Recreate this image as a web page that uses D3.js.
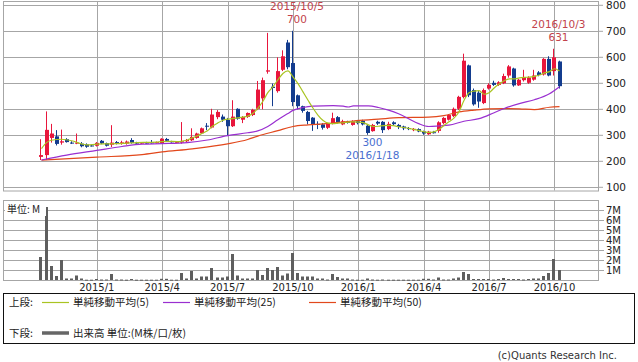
<!DOCTYPE html>
<html>
<head>
<meta charset="utf-8">
<script src="https://cdn.jsdelivr.net/npm/d3@7"></script>
<style>
body { margin: 0; background: #fff; }
svg { display: block; font-family: "DejaVu Sans", sans-serif; }
</style>
</head>
<body>
<svg id="chart"></svg>
<script>
// weekly candles (monday of each week)
let weeks = [
  '2014-10-20','2014-10-27','2014-11-03','2014-11-10','2014-11-17','2014-11-24','2014-12-01','2014-12-08','2014-12-15','2014-12-22','2014-12-29',
  '2015-01-05','2015-01-12','2015-01-19','2015-01-26','2015-02-02','2015-02-09','2015-02-16','2015-02-23','2015-03-02','2015-03-09','2015-03-16','2015-03-23','2015-03-30',
  '2015-04-06','2015-04-13','2015-04-20','2015-04-27','2015-05-04','2015-05-11','2015-05-18','2015-05-25','2015-06-01','2015-06-08','2015-06-15','2015-06-22','2015-06-29',
  '2015-07-06','2015-07-13','2015-07-20','2015-07-27','2015-08-03','2015-08-10','2015-08-17','2015-08-24','2015-08-31','2015-09-07','2015-09-14','2015-09-21','2015-09-28',
  '2015-10-05','2015-10-12','2015-10-19','2015-10-26','2015-11-02','2015-11-09','2015-11-16','2015-11-23','2015-11-30','2015-12-07','2015-12-14','2015-12-21','2015-12-28',
  '2016-01-04','2016-01-11','2016-01-18','2016-01-25','2016-02-01','2016-02-08','2016-02-15','2016-02-22','2016-02-29','2016-03-07','2016-03-14','2016-03-21','2016-03-28',
  '2016-04-04','2016-04-11','2016-04-18','2016-04-25','2016-05-02','2016-05-09','2016-05-16','2016-05-23','2016-05-30','2016-06-06','2016-06-13','2016-06-20','2016-06-27',
  '2016-07-04','2016-07-11','2016-07-18','2016-07-25','2016-08-01','2016-08-08','2016-08-15','2016-08-22','2016-08-29','2016-09-05','2016-09-12','2016-09-19','2016-09-26',
  '2016-10-03','2016-10-10'
]

let open = [215,222,288,294,270,283,270,266,266,263,259,258,277,268,262,272,265,266,280,270,
  268,270,271,270,268,284,275,272,270,275,279,288,306,335,328,368,370,357,333,400,
  358,369,376,400,440,543,485,468,550,655,576,452,410,388,366,342,340,327,343,368,
  340,350,338,352,354,335,314,350,350,322,348,338,332,326,318,322,313,302,310,315,
  345,358,372,400,445,567,472,462,422,478,500,492,498,528,555,490,510,500,512,540,
  532,592,545,582]
let high = [283,390,342,318,320,287,275,305,272,267,262,272,280,270,337,276,277,278,287,273,
  272,273,280,274,287,288,277,276,349,284,325,308,328,345,400,395,378,365,433,402,
  372,386,400,507,520,692,497,598,625,665,700,455,412,392,368,352,345,345,385,372,
  358,354,356,357,358,338,342,354,353,350,352,342,335,330,326,325,316,315,315,352,
  368,380,405,450,612,570,478,468,478,498,508,506,535,568,558,515,550,525,550,545,
  595,602,631,585]
let low = [203,203,270,259,262,270,265,264,252,250,255,255,264,255,253,263,262,262,266,265,
  265,266,266,266,266,274,270,268,266,272,276,285,303,318,325,360,350,295,330,358,
  345,365,372,395,398,535,410,462,545,552,410,398,385,340,315,322,320,322,340,343,
  337,343,335,340,336,300,312,338,307,318,337,322,318,318,314,310,300,300,305,308,
  340,355,368,395,440,445,412,404,418,474,488,488,495,520,485,488,505,496,508,525,
  528,525,528,478]
let close = [222,319,305,265,275,272,268,270,256,254,258,269,267,258,270,266,271,274,269,268,
  270,269,270,272,285,277,272,273,275,280,292,305,325,332,378,388,358,333,370,362,
  368,384,396,474,510,548,480,545,602,560,426,410,392,353,340,339,327,342,364,347,
  352,347,352,345,340,307,338,343,318,342,341,330,325,322,323,313,305,312,308,348,
  365,376,400,446,585,452,417,428,472,492,492,502,526,563,490,512,522,520,528,530,
  592,528,598,487]
// volume, millions of shares
let volume = [2.3,7.3,1.4,0.4,2.0,0.15,0.15,0.45,0.15,0.03,0.03,0.1,0.05,0.05,0.6,0.05,0.05,0.03,0.1,0.03,
  0.03,0.03,0.03,0.03,0.12,0.12,0.03,0.03,0.7,0.15,0.9,0.15,0.35,0.35,1.2,0.25,0.25,0.35,2.6,0.45,
  0.15,0.15,0.15,1.0,0.5,1.2,1.0,1.3,0.45,0.65,2.7,0.7,0.35,0.35,0.35,0.15,0.15,0.05,0.6,0.3,
  0.15,0.15,0.05,0.03,0.03,0.15,0.05,0.03,0.05,0.03,0.03,0.03,0.03,0.03,0.03,0.03,0.12,0.12,0.05,0.25,
  0.05,0.05,0.15,0.25,0.8,0.6,0.1,0.1,0.1,0.1,0.05,0.1,0.2,0.1,0.1,0.1,0.05,0.1,0.15,0.15,
  0.4,0.7,2.1,1.0]

// moving averages: [week index, value]
let ma5 = [[0,247],[1,270],[2,279],[4,283],[6,277],[8,265],[9,261],[11,264],[13,265],[15,266],[17,268],[19,270],
  [21,271],[23,272],[25,275],[27,274],[28,276],[29,280],[30,288],[31,296],[32,306],[33,316],[34,333],[35,345],
  [36,355],[37,360],[38,362],[39,365],[40,368],[41,372],[42,382],[43,402],[44,428],[45,462],[46,484],[47,511],
  [48,536],[49,546],[50,523],[51,497],[52,465],[53,433],[54,402],[55,375],[56,355],[57,345],[58,343],[59,345],
  [60,346],[61,349],[62,350],[63,349],[64,347],[65,338],[66,332],[67,333],[68,335],[69,336],[70,335],[71,331],
  [72,328],[73,325],[74,321],[75,317],[76,312],[77,309],[78,311],[79,320],[80,336],[81,350],[82,364],[83,388],
  [84,432],[85,462],[86,468],[87,470],[88,456],[89,462],[90,480],[91,495],[92,508],[93,515],[94,515],[95,519],
  [96,521],[97,522],[98,525],[99,530],[100,538],[101,543],[102,554],[103,545]]
let ma25 = [[0,203],[5,222],[11,240],[16,255],[20,264],[24,266],[29,270],[33,280],[37,297],[41,308],[43,315],
  [45,332],[47,358],[49,382],[50,394],[52,405],[54,410],[58,412],[60,410],[61,407],[62,411],[65,411],[67,405],
  [69,395],[71,381],[73,362],[75,343],[77,332],[79,334],[81,337],[84,352],[87,362],[90,385],[92,401],[95,420],
  [98,435],[101,458],[103,485]]
let ma50 = [[0,203],[11,214],[20,224],[24,234],[30,246],[37,265],[41,282],[43,295],[47,316],[50,332],[53,338],
  [56,342],[62,353],[67,360],[71,366],[77,368],[80,374],[83,388],[86,395],[89,400],[92,401],[95,400],[98,397],
  [101,406],[103,408]]

let tickWeeks = ['2015-01-05','2015-04-06','2015-07-06','2015-10-05','2016-01-04','2016-04-04','2016-07-04','2016-10-03']
let tickLabels = ['2015/1','2015/4','2015/7','2015/10','2016/1','2016/4','2016/7','2016/10']
let priceTicks = [100,200,300,400,500,600,700,800]
let volumeTicks = [1,2,3,4,5,6,7]

// high / low markers
let markWeeks = ['2015-10-05','2016-10-03','2016-01-18']
let markValues = [700,631,300]
let markLabels = ['2015/10/5','2016/10/3','2016/1/18']
let markIsHigh = [true,true,false]

let legendNames = ['単純移動平均(5)','単純移動平均(25)','単純移動平均(50)']

let width = 638
let height = 362
let plotLeft = 3
let plotRight = 598
let priceTop = 1
let priceBottom = 190.5
let volTop = 200
let volBottom = 280

let upColor = '#e8163c'
let downColor = '#133c8e'
let gridColor = '#a6a6a6'
let maColors = ['#a9c422','#9a2fd0','#e2481c']

let svg = d3.select('#chart')
let xScale, yScale, vScale

let drawCanvas = () => {
  svg.attr('width', width).attr('height', height)
  svg.append('rect').attr('width', width).attr('height', height).attr('fill', '#fff')
}

let generateScales = () => {
  xScale = d3.scalePoint()
    .domain(weeks)
    .range([plotLeft, plotRight])
    .padding(7.65)
  yScale = d3.scaleLinear()
    .domain([85.8, 814.6])
    .range([priceBottom, priceTop])
  vScale = d3.scaleLinear()
    .domain([0, 8])
    .range([volBottom, volTop])
}

let px = (v) => Math.round(v) + 0.5

let drawGrid = () => {
  let g = svg.append('g').attr('stroke', gridColor).attr('stroke-width', 1)
  // price panel
  priceTicks.forEach((t) => {
    g.append('line').attr('x1', plotLeft).attr('x2', plotRight)
      .attr('y1', px(yScale(t))).attr('y2', px(yScale(t)))
  })
  // volume panel
  volumeTicks.forEach((t) => {
    g.append('line').attr('x1', plotLeft).attr('x2', plotRight)
      .attr('y1', px(vScale(t))).attr('y2', px(vScale(t)))
  })
  tickWeeks.forEach((w) => {
    let x = px(xScale(w))
    g.append('line').attr('x1', x).attr('x2', x).attr('y1', priceTop).attr('y2', priceBottom)
    g.append('line').attr('x1', x).attr('x2', x).attr('y1', volTop).attr('y2', volBottom)
  })
  // frames
  svg.append('rect').attr('x', plotLeft + 0.5).attr('y', priceTop + 0.5)
    .attr('width', plotRight - plotLeft).attr('height', priceBottom - priceTop)
    .attr('fill', 'none').attr('stroke', gridColor)
  svg.append('rect').attr('x', plotLeft + 0.5).attr('y', volTop + 0.5)
    .attr('width', plotRight - plotLeft).attr('height', volBottom - volTop)
    .attr('fill', 'none').attr('stroke', gridColor)
}

let drawCandles = () => {
  let candles = svg.append('g')
    .selectAll('g')
    .data(weeks)
    .enter()
    .append('g')
    .attr('fill', (w, i) => close[i] >= open[i] ? upColor : downColor)
    .attr('stroke', (w, i) => close[i] >= open[i] ? upColor : downColor)

  candles.append('line')
    .attr('x1', (w) => Math.round(xScale(w)) - 0.5)
    .attr('x2', (w) => Math.round(xScale(w)) - 0.5)
    .attr('y1', (w, i) => yScale(high[i]))
    .attr('y2', (w, i) => yScale(low[i]))

  candles.append('rect')
    .attr('stroke', 'none')
    .attr('x', (w) => Math.round(xScale(w)) - 2)
    .attr('width', 4)
    .attr('y', (w, i) => yScale(Math.max(open[i], close[i])))
    .attr('height', (w, i) => Math.max(1, yScale(Math.min(open[i], close[i])) - yScale(Math.max(open[i], close[i]))))
}

let drawAverages = () => {
  let line = d3.line()
    .x((d) => xScale(weeks[d[0]]))
    .y((d) => yScale(d[1]))
    .curve(d3.curveMonotoneX)
  ;[ma50, ma25, ma5].forEach((series, k) => {
    svg.append('path')
      .attr('d', line(series))
      .attr('fill', 'none')
      .attr('stroke', maColors[2 - k])
      .attr('stroke-width', 1.2)
  })
}

let drawVolume = () => {
  svg.append('g')
    .selectAll('rect')
    .data(weeks)
    .enter()
    .append('rect')
    .attr('x', (w) => Math.round(xScale(w)) - 2)
    .attr('width', 3)
    .attr('y', (w, i) => vScale(volume[i]))
    .attr('height', (w, i) => Math.max(1, volBottom - vScale(volume[i])))
    .attr('fill', '#5e5e5e')

  // unit label
  svg.append('rect').attr('x', 5).attr('y', 202).attr('width', 41).attr('height', 14).attr('fill', '#fff')
  svg.append('text').attr('x', 7).attr('y', 213)
    .attr('font-family', '"Noto Sans CJK JP", sans-serif')
    .attr('font-size', 10).attr('fill', '#222')
    .text('単位: M')
}

let generateAxes = () => {
  let yAxis = d3.axisRight(yScale)
    .tickValues(priceTicks)
    .tickSize(5)
    .tickPadding(3)
  let gy = svg.append('g')
    .attr('transform', 'translate(' + plotRight + ',0)')
    .call(yAxis)
  gy.select('.domain').remove()

  let vAxis = d3.axisRight(vScale)
    .tickValues(volumeTicks)
    .tickFormat((d) => d + 'M')
    .tickSize(6)
    .tickPadding(2)
  let gv = svg.append('g')
    .attr('transform', 'translate(' + plotRight + ',0)')
    .call(vAxis)
  gv.select('.domain').remove()

  ;[gy, gv].forEach((g) => {
    g.selectAll('line').attr('stroke', gridColor)
    g.selectAll('text').attr('fill', '#222').attr('font-size', 11)
      .attr('font-family', '"DejaVu Sans", sans-serif')
  })
  gy.selectAll('text').attr('font-size', 10.5)
  gv.selectAll('text').attr('font-size', 10).attr('dy', '0.3em')

  // date labels under the volume panel
  svg.append('g')
    .selectAll('text')
    .data(tickWeeks)
    .enter()
    .append('text')
    .attr('x', (w) => xScale(w))
    .attr('y', 291)
    .attr('text-anchor', 'middle')
    .attr('font-size', 10)
    .attr('fill', '#222')
    .text((w, i) => tickLabels[i])
}

let drawMarks = () => {
  markWeeks.forEach((w, i) => {
    let x = xScale(w) + 4
    let y = yScale(markValues[i])
    let color = markIsHigh[i] ? '#c2434b' : '#4a6fd0'
    let g = svg.append('g').attr('fill', color).attr('font-size', 10.5).attr('text-anchor', 'middle')
    if (markIsHigh[i]) {
      g.append('text').attr('x', x).attr('y', y - 21).text(markLabels[i])
      g.append('text').attr('x', x).attr('y', y - 8).text(markValues[i])
    } else {
      g.append('text').attr('x', x).attr('y', y + 11).text(markValues[i])
      g.append('text').attr('x', x).attr('y', y + 24).text(markLabels[i])
    }
  })
}

let drawLegend = () => {
  let g = svg.append('g')
    .attr('font-family', '"Noto Sans CJK JP", sans-serif')
    .attr('font-size', 10.5)
    .attr('fill', '#222')
  g.append('rect').attr('x', 3.5).attr('y', 293.5).attr('width', 631).attr('height', 50)
    .attr('fill', 'none').attr('stroke', '#111')

  g.append('text').attr('x', 9).attr('y', 306).text('上段:')
  let lineX = [42, 163, 309]
  legendNames.forEach((name, i) => {
    g.append('line').attr('x1', lineX[i]).attr('x2', lineX[i] + 27).attr('y1', 302.5).attr('y2', 302.5)
      .attr('stroke', maColors[i]).attr('stroke-width', 1.2)
    g.append('text').attr('x', lineX[i] + 31).attr('y', 306).text(name)
  })

  g.append('text').attr('x', 9).attr('y', 337).text('下段:')
  g.append('line').attr('x1', 42).attr('x2', 69).attr('y1', 333).attr('y2', 333)
    .attr('stroke', '#666').attr('stroke-width', 3.5)
  g.append('text').attr('x', 73).attr('y', 337).text('出来高 単位:(M株/口/枚)')

  svg.append('text').attr('x', 617).attr('y', 359)
    .attr('text-anchor', 'end')
    .attr('font-size', 10)
    .attr('fill', '#333')
    .text('(c)Quants Research Inc.')
}

drawCanvas()
generateScales()
drawGrid()
drawCandles()
drawAverages()
drawVolume()
generateAxes()
drawMarks()
drawLegend()
</script>
</body>
</html>
